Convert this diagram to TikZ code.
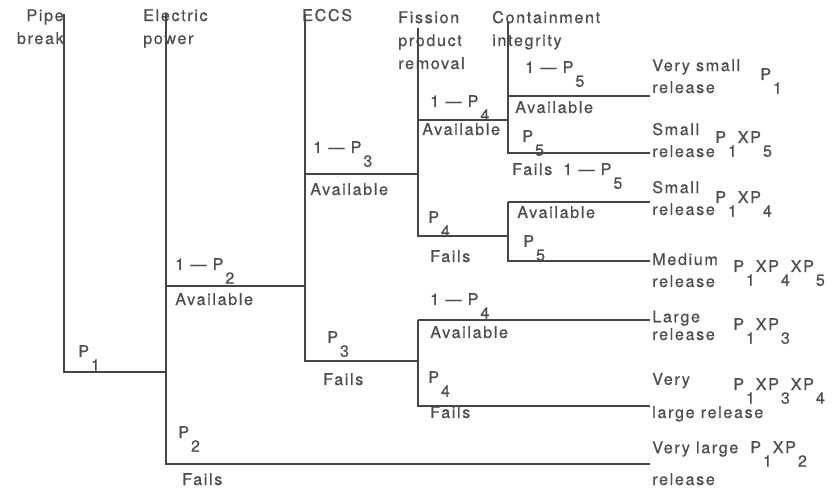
\documentclass[tikz,border=0pt]{standalone}
\usepackage{fontspec}
\usepackage{tikz}
\newfontfamily\treefont[LetterSpace=10,FakeBold=0.6]{TeX Gyre Heros}
\definecolor{treeink}{RGB}{70,70,70}
\definecolor{labelink}{RGB}{78,78,78}
\newcommand{\lo}[1]{\hspace{0.12em}\raisebox{-0.85em}{#1}\hspace{0.05em}}

\begin{document}
\begin{tikzpicture}[
    x=0.025cm, y=-0.025cm,
    branch/.style={draw=treeink, line width=1pt},
    lbl/.style={anchor=base west, inner sep=0pt, text=labelink,
                font=\treefont\fontsize{11.5}{16.3}\selectfont},
    hdr/.style={lbl, align=left},
    outcome/.style={lbl, align=left,
                    font=\treefont\fontsize{11.5}{15.6}\selectfont},
]
\useasboundingbox (0,0) rectangle (836,491);

% ── Column headings (base = last line) ─────────────────────────────────
\node[hdr, anchor=base east, align=right] (hpipe) at (64,44) {Pipe\\break};
\node[hdr] (helec)  at (143,44) {Electric\\power};
\node[hdr] (heccs)  at (302,21) {ECCS};
\node[hdr] (hfiss)  at (398,69) {Fission\\product\\removal};
\node[hdr] (hcont)  at (492,46) {Containment\\integrity};

% ── Branch points ──────────────────────────────────────────────────────
\coordinate (pipeTop) at (64,14);
\coordinate (pipeFl)  at (64,372);
\coordinate (elTop)   at (166,14);
\coordinate (elIn)    at (166,372);
\coordinate (elAv)    at (166,286);
\coordinate (elFl)    at (166,464);
\coordinate (ecTop)   at (305,14);
\coordinate (ecIn)    at (305,286);
\coordinate (ecAv)    at (305,174);
\coordinate (ecFl)    at (305,361);
\coordinate (fpTop)   at (418,28);
\coordinate (fpIn)    at (418,174);
\coordinate (fpAv)    at (418,120);
\coordinate (fpFl)    at (418,236);
\coordinate (fqIn)    at (418,361);
\coordinate (fqAv)    at (418,320);
\coordinate (fqFl)    at (418,406);
\coordinate (ciTop)   at (508,22);
\coordinate (ciIn)    at (508,120);
\coordinate (ciAv)    at (508,96);
\coordinate (ciFl)    at (508,153);
\coordinate (cjIn)    at (508,236);
\coordinate (cjAv)    at (508,202);
\coordinate (cjFl)    at (508,261);

% end points of the sequences
\coordinate (eVS)  at (650,96);
\coordinate (eS1)  at (650,153);
\coordinate (eS2)  at (650,202);
\coordinate (eM)   at (650,261);
\coordinate (eL)   at (650,320);
\coordinate (eVL)  at (650,406);
\coordinate (eVVL) at (650,464);

% ── Branches ───────────────────────────────────────────────────────────
\draw[branch] (pipeTop) -- (pipeFl) -- (elIn);
\draw[branch] (elTop) -- (elFl) -- (eVVL);
\draw[branch] (elAv) -- (ecIn);
\draw[branch] (ecTop) -- (ecFl) -- (fqIn);
\draw[branch] (ecAv) -- (fpIn);
\draw[branch] (fpTop) -- (fpFl) -- (cjIn);
\draw[branch] (fpAv) -- (ciIn);
\draw[branch] (ciTop) -- (ciFl) -- (eS1);
\draw[branch] (ciAv) -- (eVS);
\draw[branch] (cjAv) -- (cjFl) -- (eM);
\draw[branch] (cjAv) -- (eS2);
\draw[branch] (fqAv) -- (fqFl) -- (eVL);
\draw[branch] (fqAv) -- (eL);

% ── Branch labels ──────────────────────────────────────────────────────
\node[lbl] (pP1)   at (78,357)  {P\lo{1}};
\node[lbl] (qP2)   at (175,270) {1 — P\lo{2}};
\node[lbl] (avP2)  at (175,305) {Available};
\node[lbl] (pP2)   at (178,438) {P\lo{2}};
\node[lbl] (flP2)  at (182,485) {Fails};
\node[lbl] (qP3)   at (313,153) {1 — P\lo{3}};
\node[lbl] (avP3)  at (310,195) {Available};
\node[lbl] (pP3)   at (327,343) {P\lo{3}};
\node[lbl] (flP3)  at (323,385) {Fails};
\node[lbl] (qP4a)  at (430,107) {1 — P\lo{4}};
\node[lbl] (avP4a) at (422,135) {Available};
\node[lbl] (pP4a)  at (428,223) {P\lo{4}};
\node[lbl] (flP4a) at (430,262) {Fails};
\node[lbl] (qP4b)  at (430,305) {1 — P\lo{4}};
\node[lbl] (avP4b) at (430,338) {Available};
\node[lbl] (pP4b)  at (428,383) {P\lo{4}};
\node[lbl] (flP4b) at (430,418) {Fails};
\node[lbl] (qP5a)  at (525,73)  {1 — P\lo{5}};
\node[lbl] (avP5a) at (515,113) {Available};
\node[lbl] (pP5a)  at (522,142) {P\lo{5}};
\node[lbl] (flP5a) at (512,175) {Fails};
\node[lbl] (qP5b)  at (563,175) {1 — P\lo{5}};
\node[lbl] (avP5b) at (517,218) {Available};
\node[lbl] (pP5b)  at (523,247) {P\lo{5}};

% ── Outcomes (base = last line) ────────────────────────────────────────
\node[outcome] (oVS)  at (652,93)  {Very small\\release};
\node[lbl]     (fVS)  at (760,80)  {P\lo{1}};
\node[outcome] (oS1)  at (652,157) {Small\\release};
\node[lbl]     (fS1)  at (715,143) {P\lo{1}XP\lo{5}};
\node[outcome] (oS2)  at (652,215) {Small\\release};
\node[lbl]     (fS2)  at (715,203) {P\lo{1}XP\lo{4}};
\node[outcome] (oM)   at (652,287) {Medium\\release};
\node[lbl]     (fM)   at (733,272) {P\lo{1}XP\lo{4}XP\lo{5}};
\node[outcome] (oL)   at (652,340) {Large\\[-3pt]release};
\node[lbl]     (fL)   at (733,330) {P\lo{1}XP\lo{3}};
\node[outcome] (oVL)  at (652,418) {Very\\[8pt]large release};
\node[lbl]     (fVL)  at (733,390) {P\lo{1}XP\lo{3}XP\lo{4}};
\node[outcome] (oVVL) at (652,485) {Very large\\[7pt]release};
\node[lbl]     (fVVL) at (750,453) {P\lo{1}XP\lo{2}};

\end{tikzpicture}
\end{document}
